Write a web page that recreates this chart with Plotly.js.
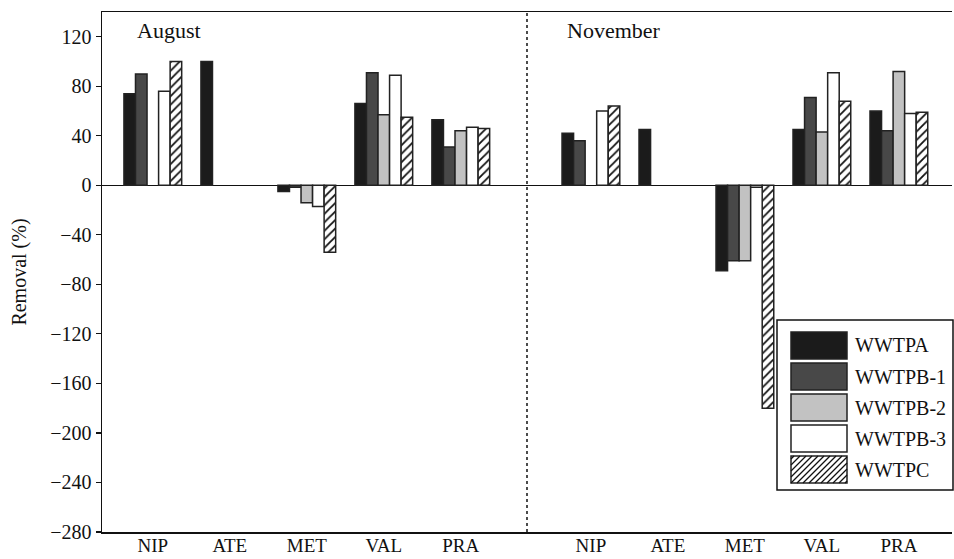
<!DOCTYPE html>
<html>
<head>
<meta charset="utf-8">
<script src="https://cdn.plot.ly/plotly-3.0.1.min.js"></script>
<style>html,body{margin:0;padding:0;background:#fff;}#chart{width:954px;height:559px;}</style>
</head>
<body>
<div id="chart"></div>
<script>
// ---- data ----
var categories = ['NIP', 'ATE', 'MET', 'VAL', 'PRA'];
var seriesNames = ['WWTPA', 'WWTPB-1', 'WWTPB-2', 'WWTPB-3', 'WWTPC'];
var panels = ['August', 'November'];

var augWWTPA  = [74, 100, -5, 66, 53];
var augWWTPB1 = [90, null, -1.5, 91, 31];
var augWWTPB2 = [null, null, -14, 57, 44];
var augWWTPB3 = [76, null, -17, 89, 47];
var augWWTPC  = [100, null, -54, 55, 46];

var novWWTPA  = [42, 45, -69, 45, 60];
var novWWTPB1 = [36, null, -61, 71, 44];
var novWWTPB2 = [null, null, -61, 43, 92];
var novWWTPB3 = [60, null, -1.5, 91, 58];
var novWWTPC  = [64, null, -180, 68, 59];

var yTicks = [120, 80, 40, 0, -40, -80, -120, -160, -200, -240, -280];

// ---- styles ----
var FONT = 'Liberation Serif';
var fills = ['#1b1b1b', '#484848', '#c2c2c2', '#ffffff', '#ffffff'];
var edge = '#222222';

var augSeries = [augWWTPA, augWWTPB1, augWWTPB2, augWWTPB3, augWWTPC];
var novSeries = [novWWTPA, novWWTPB1, novWWTPB2, novWWTPB3, novWWTPC];

function markerFor(i) {
  var m = {color: fills[i], line: {color: edge, width: 1.5}};
  if (seriesNames[i] === 'WWTPC') {
    m.pattern = {shape: '/', fgcolor: '#111111', bgcolor: '#ffffff', size: 6, solidity: 0.3, fillmode: 'replace'};
  }
  return m;
}

var traces = [];
augSeries.forEach(function (vals, i) {
  traces.push({type: 'bar', name: seriesNames[i], x: categories, y: vals,
    xaxis: 'x', yaxis: 'y', marker: markerFor(i), showlegend: false, hoverinfo: 'x+y+name'});
});
novSeries.forEach(function (vals, i) {
  traces.push({type: 'bar', name: seriesNames[i], x: categories, y: vals,
    xaxis: 'x2', yaxis: 'y', marker: markerFor(i), showlegend: false, hoverinfo: 'x+y+name'});
});

// ---- custom legend (large swatches) ----
var W = 954, H = 559, L = 102, R = 2, T = 12, B = 27;
var pw = W - L - R, ph = H - T - B;
function px(x) { return (x - L) / pw; }
function py(y) { return (H - B - y) / ph; }

var shapes = [
  {type: 'line', xref: 'paper', yref: 'paper', x0: 0.5, x1: 0.5, y0: 0, y1: 1,
   line: {color: '#000', width: 1.4, dash: 'dot'}},
  {type: 'rect', xref: 'paper', yref: 'paper', x0: px(777), x1: px(953), y0: py(490), y1: py(320),
   line: {color: '#111', width: 1.5}, fillcolor: '#ffffff', layer: 'above'}
];
var annotations = [
  {text: panels[0], xref: 'paper', yref: 'paper', x: px(135), y: py(31), xanchor: 'left', yanchor: 'middle',
   showarrow: false, font: {family: FONT, size: 22, color: '#111'}},
  {text: panels[1], xref: 'paper', yref: 'paper', x: px(565), y: py(31), xanchor: 'left', yanchor: 'middle',
   showarrow: false, font: {family: FONT, size: 22, color: '#111'}}
];
var sx0 = 791, sx1 = 847, rowTop = 332, rowStep = 31, rowH = 27;
seriesNames.forEach(function (name, i) {
  var y0 = rowTop + i * rowStep, y1 = y0 + rowH;
  shapes.push({type: 'rect', xref: 'paper', yref: 'paper', x0: px(sx0), x1: px(sx1), y0: py(y1), y1: py(y0),
    line: {color: edge, width: 1.5}, fillcolor: fills[i], layer: 'above'});
  if (name === 'WWTPC') {
    for (var c = sx0 + y0 + 3; c < sx1 + y1; c += 6) {
      var xa = Math.max(sx0, c - y1), xb = Math.min(sx1, c - y0);
      if (xb <= xa) continue;
      shapes.push({type: 'line', xref: 'paper', yref: 'paper', x0: px(xa), y0: py(c - xa), x1: px(xb), y1: py(c - xb),
        line: {color: '#111', width: 1.2}, layer: 'above'});
    }
  }
  annotations.push({text: name, xref: 'paper', yref: 'paper', x: px(853), y: py((y0 + y1) / 2),
    xanchor: 'left', yanchor: 'middle', showarrow: false, font: {family: FONT, size: 20, color: '#111'}});
});

var xCommon = {type: 'category', anchor: 'y', showline: true, mirror: true, linecolor: '#111', linewidth: 1.5,
  ticks: '', ticklabelstandoff: -4, showgrid: false, zeroline: false,
  tickfont: {family: FONT, size: 19, color: '#111'}, fixedrange: true};

var layout = {
  width: W, height: H,
  margin: {l: L, r: R, t: T, b: B, pad: 0},
  paper_bgcolor: '#ffffff', plot_bgcolor: '#ffffff',
  barmode: 'group', bargap: 0.25, bargroupgap: 0,
  font: {family: FONT, size: 20, color: '#111'},
  xaxis: Object.assign({}, xCommon, {domain: [0, 0.5], range: [-0.66, 4.86]}),
  xaxis2: Object.assign({}, xCommon, {domain: [0.5, 1], range: [-0.83, 4.69]}),
  yaxis: {anchor: 'x', range: [-280, 140], tickmode: 'array', tickvals: yTicks,
    ticks: 'outside', ticklen: 5, tickwidth: 1.2, tickcolor: '#111',
    showline: true, linecolor: '#111', linewidth: 1.5, showgrid: false,
    zeroline: true, zerolinecolor: '#111', zerolinewidth: 1.5,
    tickfont: {family: FONT, size: 20, color: '#111'},
    title: {text: 'Removal (%)', font: {family: FONT, size: 20, color: '#111'}, standoff: 18}, fixedrange: true},
  showlegend: false,
  shapes: shapes,
  annotations: annotations
};

Plotly.newPlot('chart', traces, layout, {displayModeBar: false, staticPlot: true});
</script>
</body>
</html>
